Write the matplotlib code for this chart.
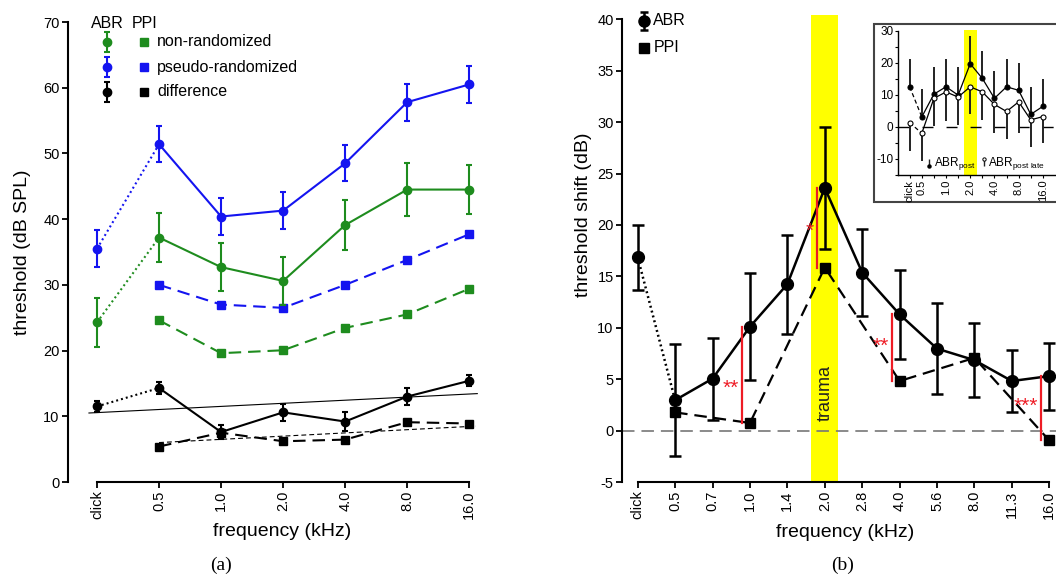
import numpy as np
import matplotlib
matplotlib.use('Agg')
import matplotlib.pyplot as plt
from matplotlib.patches import Rectangle

plt.rcParams['font.family'] = ['Liberation Sans', 'DejaVu Sans']
plt.rcParams['lines.scale_dashes'] = False
plt.rcParams['axes.unicode_minus'] = False
plt.rcParams['mathtext.fontset'] = 'custom'
plt.rcParams['mathtext.rm'] = 'Liberation Sans'
plt.rcParams['mathtext.it'] = 'Liberation Sans:italic'

# ---------------- panel (a) data ----------------
freq_a = ['click', '0.5', '1.0', '2.0', '4.0', '8.0', '16.0']
abr_nonrand = [24.3, 37.2, 32.7, 30.6, 39.1, 44.5, 44.5]
abr_nonrand_err = [3.7, 3.7, 3.6, 3.6, 3.75, 4.0, 3.7]
abr_pseudo = [35.5, 51.4, 40.4, 41.3, 48.5, 57.8, 60.5]
abr_pseudo_err = [2.8, 2.75, 2.8, 2.8, 2.75, 2.8, 2.8]
abr_diff = [11.5, 14.3, 7.6, 10.6, 9.2, 13.0, 15.4]
abr_diff_err = [0.8, 0.85, 1.1, 1.3, 1.5, 1.3, 0.85]
ppi_nonrand = [np.nan, 24.6, 19.6, 20.05, 23.45, 25.5, 29.4]
ppi_pseudo = [np.nan, 30.0, 27.0, 26.5, 30.0, 33.8, 37.7]
ppi_diff = [np.nan, 5.4, 7.5, 6.2, 6.45, 9.1, 8.9]
trend_abr_diff = [10.5, 13.45]   # fitted line, value at its two ends
trend_ppi_diff = [6.0, 8.5]
legend_a = ['non-randomized', 'pseudo-randomized', 'difference']

# ---------------- panel (b) data ----------------
freq_b = ['click', '0.5', '0.7', '1.0', '1.4', '2.0', '2.8', '4.0',
          '5.6', '8.0', '11.3', '16.0']
abr_shift = [16.84, 2.96, 5.05, 10.1, 14.24, 23.6, 15.37, 11.3, 7.97, 6.85, 4.82, 5.3]
abr_shift_err = [3.2, 5.45, 4.0, 5.2, 4.8, 5.95, 4.2, 4.3, 4.4, 3.6, 3.0, 3.25]
ppi_shift = [np.nan, 1.77, np.nan, 0.74, np.nan, 15.86, np.nan, 4.82,
             np.nan, 7.07, np.nan, -0.96]
sig_freq = ['1.0', '2.0', '4.0', '16.0']
sig_label = ['**', '*', '**', '***']
trauma_freq = '2.0'

# ---------------- inset data ----------------
abr_post = [12.5, 3.1, 10.2, 12.5, 9.9, 19.7, 15.1, 8.9, 12.5, 11.4, 3.9, 6.4]
abr_post_err = [8.7, 8.6, 8.6, 8.7, 8.9, 8.6, 8.7, 8.6, 8.8, 8.6, 8.5, 8.4]
abr_post_late = [1.35, -2.0, 8.9, 10.9, 9.3, 12.5, 10.9, 7.0, 4.8, 7.8, 2.2, 3.2]
abr_post_late_err = [8.85, 8.6, 8.6, 9.0, 8.6, 8.6, 8.7, 8.8, 8.6, 9.6, 8.6, 8.1]
inset_labels = ['click', '0.5', '1.0', '2.0', '4.0', '8.0', '16.0']

GREEN = '#1e8c1e'
BLUE = '#1414f0'
RED = '#ee1c25'
YELLOW = '#ffff00'
DOT = (0, (1.4, 2.2))
DASH = (0, (9, 5))

W, H = 1056, 574
fig = plt.figure(figsize=(W / 100, H / 100), dpi=100)


def fx(px):
    return px / W


def fy(py):
    return 1 - py / H


def style_axes(ax):
    for s in ['top', 'right']:
        ax.spines[s].set_visible(False)
    for s in ['left', 'bottom']:
        ax.spines[s].set_linewidth(1.5)
    ax.tick_params(direction='out', length=4, width=1.3, labelsize=10.5, pad=2)


# ======================= panel (a) =======================
axA = fig.add_axes([fx(68), fy(482), fx(481) - fx(68), fy(22) - fy(482)])
xa = np.arange(len(freq_a))
axA.set_xlim(-0.468, 6.19)
axA.set_ylim(0, 70)
style_axes(axA)
axA.spines['left'].set_bounds(0, 70)
axA.spines['bottom'].set_bounds(xa[0], xa[-1])
axA.set_xticks(xa, freq_a, rotation=90)
axA.set_yticks(np.arange(0, 71, 10))


def abr_series(ax, x, y, err, color, ms, cap, lw=1.5):
    y = np.asarray(y)
    ax.plot(x[:2], y[:2], ls=DOT, color=color, lw=lw, zorder=3)
    ax.plot(x[1:], y[1:], '-', color=color, lw=lw, zorder=3)
    ax.errorbar(x, y, yerr=err, fmt='o', color=color, ms=ms, capsize=cap,
                elinewidth=lw, capthick=lw, zorder=4)


abr_series(axA, xa, abr_pseudo, abr_pseudo_err, BLUE, 6, 2)
abr_series(axA, xa, abr_nonrand, abr_nonrand_err, GREEN, 6, 2)
abr_series(axA, xa, abr_diff, abr_diff_err, 'k', 6, 2)
for vals, c in [(ppi_pseudo, BLUE), (ppi_nonrand, GREEN), (ppi_diff, 'k')]:
    axA.plot(xa, vals, ls=DASH, color=c, lw=1.5, marker='s', ms=5.8, zorder=3)
axA.plot([xa[0] - 0.13, xa[-1] + 0.13], trend_abr_diff, color='k', lw=0.8, zorder=2)
axA.plot([xa[1], xa[-1] + 0.1], trend_ppi_diff, color='k', lw=0.8,
         ls=(0, (3.5, 2.2)), zorder=2)

# legend (a)
axA.text(0.16, 69.8, 'ABR', ha='center', va='center', fontsize=11.5)
axA.text(0.76, 69.8, 'PPI', ha='center', va='center', fontsize=11.5)
for lab, c, yy in zip(legend_a, [GREEN, BLUE, 'k'], [66.96, 63.15, 59.35]):
    axA.errorbar([0.16], [yy], yerr=[1.5], fmt='o', color=c, ms=6, capsize=2,
                 elinewidth=1.5, capthick=1.5, clip_on=False)
    axA.plot([0.76], [yy], 's', color=c, ms=5.8)
    axA.text(0.97, yy, lab, ha='left', va='center', fontsize=11.5)

axA.set_xlabel('frequency (kHz)', fontsize=14)
axA.xaxis.set_label_coords(0.518, -0.09)
axA.set_ylabel('threshold (dB SPL)', fontsize=14)
axA.yaxis.set_label_coords(-0.09, 0.5)

# ======================= panel (b) =======================
axB = fig.add_axes([fx(622), fy(482), fx(1056) - fx(622), fy(15.2) - fy(482)])
xb = np.arange(len(freq_b))
axB.set_xlim(-0.42, 11.18)
axB.set_ylim(-5, 40.4)
style_axes(axB)
axB.spines['left'].set_bounds(-5, 40)
axB.spines['bottom'].set_bounds(xb[0], xb[-1])
axB.set_xticks(xb, freq_b, rotation=90)
axB.set_yticks(np.arange(-5, 41, 5))

ti = freq_b.index(trauma_freq)
axB.axvspan(ti - 0.36, ti + 0.36, color=YELLOW, lw=0, zorder=0)
axB.axhline(0, color='#777777', lw=1.2, ls=DASH, zorder=1)
axB.text(ti, 3.65, 'trauma', rotation=90, ha='center', va='center',
         fontsize=13, color='#222222', zorder=2)

abr_series(axB, xb, abr_shift, abr_shift_err, 'k', 8.5, 4.3, lw=1.8)
ppi_arr = np.asarray(ppi_shift)
m = ~np.isnan(ppi_arr)
axB.plot(xb[m], ppi_arr[m], ls=DASH, color='k', lw=1.6, marker='s', ms=6.5, zorder=3)

star_y = [5.08, 20.35, 9.16, 3.3]
for f, lab, sy in zip(sig_freq, sig_label, star_y):
    i = freq_b.index(f)
    axB.plot([i - 0.21, i - 0.21], [ppi_shift[i], abr_shift[i]], color=RED,
             lw=1.6, zorder=5)
    axB.annotate(lab, (i - 0.3, sy), xytext=(0, -11), textcoords='offset points',
                 ha='right', va='baseline', color=RED, fontsize=15, zorder=5)

# legend (b)
axB.errorbar([0.16], [39.84], yerr=[0.85], fmt='o', color='k', ms=8, capsize=3,
             elinewidth=1.8, capthick=1.8, clip_on=False)
axB.text(0.4, 39.84, 'ABR', ha='left', va='center', fontsize=11.5)
axB.plot([0.16], [37.23], 's', color='k', ms=6.5)
axB.text(0.44, 37.23, 'PPI', ha='left', va='center', fontsize=11.5)

axB.set_xlabel('frequency (kHz)', fontsize=14)
axB.xaxis.set_label_coords(0.514, -0.09)
axB.set_ylabel('threshold shift (dB)', fontsize=14)
axB.yaxis.set_label_coords(-0.069, 0.572)

# ======================= inset =======================
box = Rectangle((fx(874), fy(202)), 0.2, (202 - 24) / H, transform=fig.transFigure,
                facecolor='white', edgecolor='#444444', lw=1.5, zorder=5)
fig.add_artist(box)
axI = fig.add_axes([fx(898.3), fy(175), fx(1062) - fx(898.3), fy(29.7) - fy(175)],
                   zorder=6)
axI.set_facecolor('none')
xi = np.arange(len(freq_b))
axI.set_xlim(-0.94, 12.58)
axI.set_ylim(-15, 30.3)
for s in ['top', 'right']:
    axI.spines[s].set_visible(False)
axI.spines['left'].set_bounds(-15, 30)
axI.spines['left'].set_linewidth(1.0)
axI.spines['bottom'].set_linewidth(1.0)
axI.set_yticks([-10, 0, 10, 20, 30])
axI.set_yticks(np.arange(-15, 31, 5), minor=True)
tick_idx = [freq_b.index(l) for l in inset_labels]
axI.set_xticks(tick_idx, inset_labels, rotation=90)
axI.set_xticks(xi, minor=True)
axI.tick_params(which='both', direction='out', length=2.5, width=0.8, pad=1)
axI.tick_params(axis='y', labelsize=8.5)
axI.tick_params(axis='x', labelsize=8)
axI.tick_params(which='minor', length=2)
axI.axvspan(ti - 0.53, ti + 0.53, color=YELLOW, lw=0, zorder=0)
axI.axhline(0, color='k', lw=1.0, ls=(0, (7.9, 9.4)), zorder=1)

post = np.asarray(abr_post)
late = np.asarray(abr_post_late)
axI.vlines(xi, post, post + np.asarray(abr_post_err), color='#222222', lw=1.4, zorder=2)
axI.vlines(xi, late - np.asarray(abr_post_late_err), late, color='#222222', lw=1.4, zorder=2)
for arr, face in [(post, 'k'), (late, 'white')]:
    axI.plot(xi[:2], arr[:2], ls=(0, (3, 2)), color='k', lw=0.9, zorder=3)
    axI.plot(xi[1:], arr[1:], '-', color='k', lw=0.9, zorder=3)
    axI.plot(xi, arr, 'o', mfc=face, mec='k', mew=0.8, ms=3.6, zorder=4, ls='none')

# inset legend
axI.vlines([1.6], -12.3, -10.0, color='#222222', lw=1.0)
axI.plot([1.6], [-12.3], 'o', color='k', ms=2.2)
axI.text(2.0, -11.3, r'ABR$_{\mathrm{post}}$', ha='left', va='center', fontsize=8.5)
axI.vlines([6.17], -12.3, -10.0, color='#222222', lw=1.0)
axI.plot([6.17], [-10.0], 'o', mfc='white', mec='k', mew=0.7, ms=2.4)
axI.text(6.45, -11.3, r'ABR$_{\mathrm{post\ late}}$', ha='left', va='center', fontsize=8.5)

# panel letters
fig.text(fx(221), fy(565), '(a)', ha='center', va='center', fontsize=14,
         family='Liberation Serif')
fig.text(fx(843), fy(565), '(b)', ha='center', va='center', fontsize=14,
         family='Liberation Serif')

fig.savefig('out.png', dpi=100)
